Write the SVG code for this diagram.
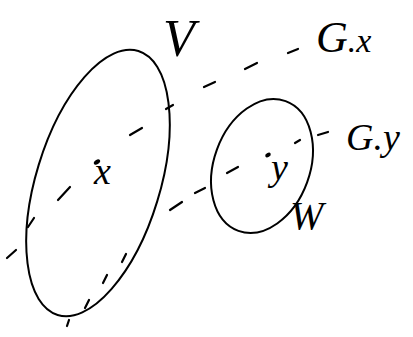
<svg xmlns="http://www.w3.org/2000/svg" width="413" height="337" viewBox="0 0 413 337">
<style>
.curve{fill:none;stroke:#000;stroke-width:2;stroke-linecap:round}
.dash{stroke:#000;stroke-width:2.2;stroke-linecap:round}
.lbl{font-family:"Liberation Serif","DejaVu Serif",serif;font-style:italic;fill:#000}
</style>
<rect width="413" height="337" fill="#fff"/>
<g id="V">
<ellipse class="curve" cx="98" cy="183" rx="62" ry="138" transform="rotate(17 98 183)"/>
<text class="lbl" x="163" y="56" font-size="52">V</text>
</g>
<g id="W">
<ellipse class="curve" cx="262" cy="166" rx="48" ry="69" transform="rotate(20 262 166)"/>
<text class="lbl" x="290" y="229" font-size="40">W</text>
</g>
<g id="x">
<ellipse cx="97" cy="162" rx="3.5" ry="2.2" transform="rotate(-35 97 162)" fill="#000"/>
<text class="lbl" x="94" y="184" font-size="38">x</text>
</g>
<g id="y">
<ellipse cx="268" cy="155" rx="3" ry="2" transform="rotate(-30 268 155)" fill="#000"/>
<text class="lbl" x="271" y="180" font-size="38">y</text>
</g>
<g id="Gx">
<text class="lbl" x="316" y="52" font-size="44">G<tspan font-size="34">.x</tspan></text>
</g>
<g id="Gy">
<text class="lbl" x="346" y="150" font-size="38">G<tspan>.y</tspan></text>
</g>
<g id="connectors">
<line class="dash" x1="7" y1="258" x2="16" y2="250"/>
<line class="dash" x1="28" y1="227" x2="34" y2="218"/>
<line class="dash" x1="58" y1="200" x2="70" y2="187"/>
<line class="dash" x1="130" y1="135" x2="142" y2="128"/>
<line class="dash" x1="166" y1="109" x2="173" y2="105"/>
<line class="dash" x1="204" y1="87" x2="215" y2="82"/>
<line class="dash" x1="245" y1="69" x2="257" y2="63"/>
<line class="dash" x1="288" y1="53" x2="298" y2="49"/>
<line class="dash" x1="67" y1="326" x2="69" y2="320"/>
<line class="dash" x1="85" y1="308" x2="89" y2="300"/>
<line class="dash" x1="103" y1="283" x2="107" y2="275"/>
<line class="dash" x1="122" y1="262" x2="126" y2="254"/>
<line class="dash" x1="170" y1="210" x2="182" y2="202"/>
<line class="dash" x1="195" y1="193" x2="205" y2="188"/>
<line class="dash" x1="227" y1="173" x2="238" y2="167"/>
<line class="dash" x1="295" y1="143" x2="300" y2="140"/>
<line class="dash" x1="318" y1="135" x2="328" y2="132"/>
</g>
</svg>
